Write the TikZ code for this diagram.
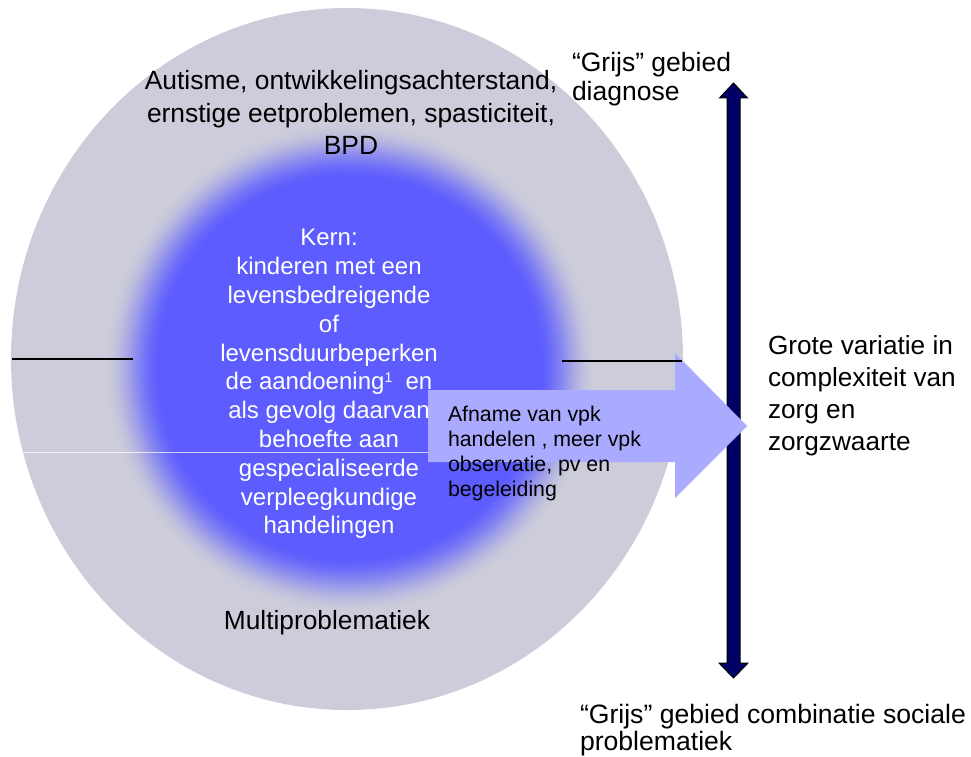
\documentclass[tikz,border=0pt]{standalone}
\usepackage{fontspec}
\setmainfont{Liberation Sans}
\definecolor{ellgray}{RGB}{204,204,218}
\definecolor{coreblue}{RGB}{92,92,255}
\definecolor{arrowblue}{RGB}{170,170,255}
\definecolor{navyblue}{RGB}{0,0,102}
\tikzset{
  lbl/.style={inner sep=0pt, outer sep=0pt, align=left, text=black},
  clbl/.style={inner sep=0pt, outer sep=0pt, align=center},
}
\begin{document}
\begin{tikzpicture}[x=1pt,y=-1pt]
\useasboundingbox (0,0) rectangle (971,757);
% outer ellipse
\fill[ellgray] (347,359) ellipse[x radius=336pt, y radius=351pt];
% core with soft edge
\foreach \r in {246,245,...,188} {
  \pgfmathsetmacro{\t}{(246-\r)/58}
  \pgfmathsetmacro{\p}{100*\t*\t*(3-2*\t)}
  \fill[coreblue!\p!ellgray] (350,368) circle[radius=\r pt];
}
% lines
\draw[line width=2pt] (12,359) -- (133,359);
\draw[white, opacity=.7, line width=.8pt] (14,452) -- (428,452);
% core text
\node[clbl, text=white, anchor=north, font=\fontsize{24}{28.8}\selectfont] (kern) at (329,229.3)
  {Kern:\\ kinderen met een\\ levensbedreigende\\ of\\ levensduurbeperken\\ de aandoening\raisebox{7pt}{\fontsize{14}{14}\selectfont 1}\ \ en\\ als gevolg daarvan\\ behoefte aan\\ gespecialiseerde\\ verpleegkundige\\ handelingen};
% navy double arrow
\draw[fill=navyblue, draw=black, line width=1pt, line join=miter]
  (733.5,83) -- (747.5,98) -- (740,98) -- (740,663) -- (748,663) -- (733.5,678)
  -- (719,663) -- (727,663) -- (727,98) -- (719.5,98) -- cycle;
% light arrow
\fill[arrowblue] (428,390) -- (675,390) -- (675,353) -- (747,426) -- (675,498) -- (675,462) -- (428,462) -- cycle;
\draw[line width=1.6pt] (562,361) -- (682,361);
% texts
\node[lbl, anchor=north west, font=\fontsize{21.3}{25}\selectfont] (afname) at (448,406.4)
  {Afname van vpk\\ handelen , meer vpk\\ observatie, pv en\\ begeleiding};
\node[clbl, anchor=north, font=\fontsize{26.4}{32.5}\selectfont] (diag) at (351,70.5)
  {Autisme, ontwikkelingsachterstand,\\ ernstige eetproblemen, spasticiteit,\\ BPD};
\node[clbl, anchor=north, font=\fontsize{26.3}{30}\selectfont] (multi) at (327,610.5) {Multiproblematiek};
\node[lbl, anchor=north west, font=\fontsize{26.2}{32}\selectfont] (variatie) at (768,335.5)
  {Grote variatie in\\ complexiteit van\\ zorg en\\ zorgzwaarte};
\node[lbl, anchor=north west, font=\fontsize{26.5}{29}\selectfont] (grijstop) at (572,52)
  {“Grijs” gebied\\ diagnose};
\node[lbl, anchor=north west, font=\fontsize{26.6}{27}\selectfont] (grijsbot) at (580,704)
  {“Grijs” gebied combinatie sociale\\ problematiek};
\end{tikzpicture}
\end{document}
